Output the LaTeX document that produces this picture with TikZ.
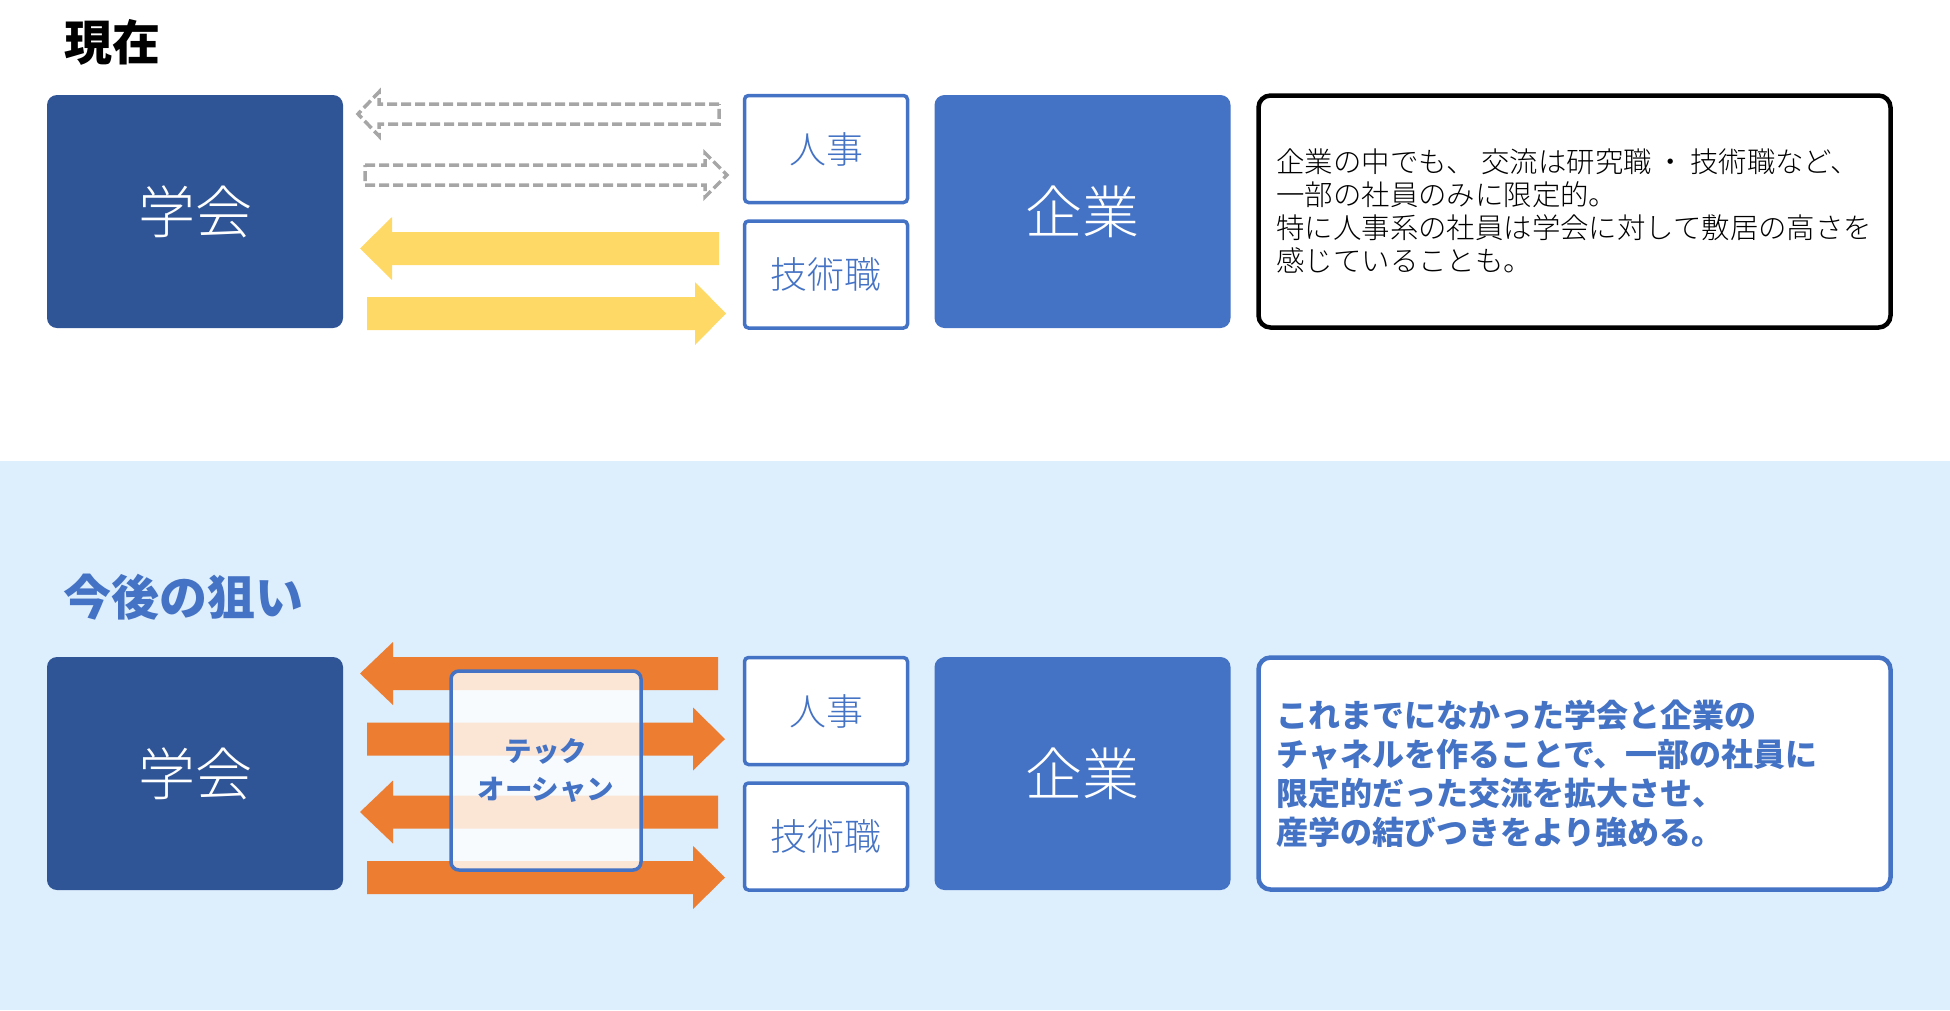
\documentclass[tikz,border=0pt]{standalone}
\usepackage{fontspec}
\setmainfont{Noto Sans CJK JP}
\IfFontExistsTF{Noto Sans CJK JP Light}
    {\newfontfamily\lightfont{Noto Sans CJK JP Light}}
    {\newfontfamily\lightfont{Noto Sans CJK JP}}
\usepackage{tikz}
\usetikzlibrary{shapes}
\definecolor{gakkaiblue}{HTML}{2F5597}
\definecolor{kigyoblue}{HTML}{4472C4}
\definecolor{bandblue}{HTML}{DDEEFC}
\definecolor{arrowgray}{HTML}{A6A6A6}
\definecolor{arrowyellow}{HTML}{FFD966}
\definecolor{arroworange}{HTML}{ED7D31}
\tikzstyle{panel}=[rounded corners=10pt,minimum width=296pt,minimum height=233pt,inner sep=0pt,text=white,font=\lightfont\fontsize{57}{60}\selectfont]
\tikzstyle{gakkai panel}=[panel,fill=gakkaiblue]
\tikzstyle{kigyo panel}=[panel,fill=kigyoblue]
\tikzstyle{role}=[draw=kigyoblue,line width=3.5pt,rounded corners=4pt,fill=white,minimum width=163pt,minimum height=107pt,inner sep=0pt,text=kigyoblue,font=\lightfont\fontsize{37}{40}\selectfont]
\tikzstyle{note}=[rounded corners=12pt,line width=4.5pt,fill=white,inner xsep=18pt,text width=596pt,minimum height=232pt,align=left,font=\lightfont\fontsize{28.4}{33}\selectfont]
\tikzstyle{heading}=[anchor=west,inner sep=0pt,font=\fontsize{48}{50}\selectfont\bfseries]
\tikzstyle{gray arrow}=[draw=arrowgray,line width=3.5pt,dash pattern=on 10pt off 4pt]
\tikzstyle{yellow arrow}=[fill=arrowyellow]
\tikzstyle{orange arrow}=[fill=arroworange]
\tikzstyle{ocean}=[draw=kigyoblue,line width=3.5pt,rounded corners=8pt,fill=white,fill opacity=0.8,text opacity=1,minimum width=190pt,minimum height=199pt,align=center,text=kigyoblue,font=\fontsize{27.5}{38}\selectfont\bfseries]

\begin{document}
\begin{tikzpicture}[x=1pt,y=-1pt]
    \useasboundingbox (0,0) rectangle (1950,1010);
    \fill[bandblue] (0,461) rectangle (1950,1010);
    % headings
    \node[heading] (genzai) at (64,42) {現在};
    \node[heading,text=kigyoblue] (nerai) at (63,597) {今後の狙い};
    % the two rows share the same boxes
    \foreach \row/\yy in {a/0, b/562} {
        \node[gakkai panel] (gakkai\row) at (195,211.5+\yy) {学会};
        \node[kigyo panel] (kigyo\row) at (1082.5,211.5+\yy) {企業};
        \node[role] (jinji\row) at (826,149+\yy) {人事};
        \node[role] (gijutsu\row) at (826,274.5+\yy) {技術職};
    }
    % block arrows: tail / head base / tip / centre
    \foreach \tl/\hb/\tp/\yc in {719/379/358/114, 365/705/727/175}
        \path[gray arrow] (\tl,\yc-10) -- (\hb,\yc-10) -- (\hb,\yc-22) -- (\tp,\yc)
            -- (\hb,\yc+22) -- (\hb,\yc+10) -- (\tl,\yc+10) -- cycle;
    \foreach \tl/\hb/\tp/\yc in {719/392/360/248.5, 367/695/726/313.5}
        \path[yellow arrow] (\tl,\yc-16.5) -- (\hb,\yc-16.5) -- (\hb,\yc-31.5) -- (\tp,\yc)
            -- (\hb,\yc+31.5) -- (\hb,\yc+16.5) -- (\tl,\yc+16.5) -- cycle;
    \foreach \tl/\hb/\tp/\yc in {718/393/360/673.5, 367/693/725/739, 718/393/360/812, 367/693/725/877.5}
        \path[orange arrow] (\tl,\yc-16.5) -- (\hb,\yc-16.5) -- (\hb,\yc-31.5) -- (\tp,\yc)
            -- (\hb,\yc+31.5) -- (\hb,\yc+16.5) -- (\tl,\yc+16.5) -- cycle;
    \node[ocean] (techocean) at (546,770.5) {テック\\オーシャン};
    % notes
    \node[note,draw=black] (genjo) at (1574.5,211.5)
        {企業の中でも、\hspace{7pt}交流は研究職\hspace{5pt}・\hspace{5pt}技術職など、\\一部の社員のみに限定的。\\特に人事系の社員は学会に対して敷居の高さを\\感じていることも。};
    \node[note,draw=kigyoblue,text=kigyoblue,font=\fontsize{32}{39}\selectfont\bfseries] (kongo) at (1574.5,773.5)
        {これまでになかった学会と企業の\\チャネルを作ることで、一部の社員に\\限定的だった交流を拡大させ、\\産学の結びつきをより強める。};
\end{tikzpicture}
\end{document}
